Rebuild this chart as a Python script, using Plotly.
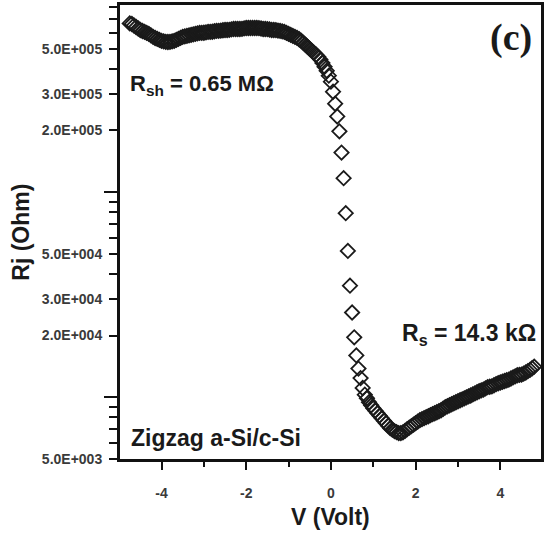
import math
import plotly.graph_objects as go

# ---------------- data ----------------
voltage = [
    -4.75, -4.70, -4.65, -4.60, -4.55, -4.50, -4.45, -4.40, -4.35, -4.30,
    -4.25, -4.20, -4.15, -4.10, -4.05, -4.00, -3.95, -3.90, -3.85, -3.80,
    -3.75, -3.70, -3.65, -3.60, -3.55, -3.50, -3.45, -3.40, -3.35, -3.30,
    -3.25, -3.20, -3.15, -3.10, -3.05, -3.00, -2.95, -2.90, -2.85, -2.80,
    -2.75, -2.70, -2.65, -2.60, -2.55, -2.50, -2.45, -2.40, -2.35, -2.30,
    -2.25, -2.20, -2.15, -2.10, -2.05, -2.00, -1.95, -1.90, -1.85, -1.80,
    -1.75, -1.70, -1.65, -1.60, -1.55, -1.50, -1.45, -1.40, -1.35, -1.30,
    -1.25, -1.20, -1.15, -1.10, -1.05, -1.00, -0.95, -0.90, -0.85, -0.80,
    -0.75, -0.70, -0.65, -0.60, -0.55, -0.50, -0.45, -0.40, -0.35, -0.30,
    -0.25, -0.20, -0.15, -0.10, -0.05, 0.00, 0.05, 0.10, 0.15, 0.20,
    0.25, 0.30, 0.35, 0.40, 0.45, 0.50, 0.55, 0.60, 0.65, 0.70,
    0.75, 0.80, 0.85, 0.90, 0.95, 1.00, 1.05, 1.10, 1.15, 1.20,
    1.25, 1.30, 1.35, 1.40, 1.45, 1.50, 1.55, 1.60, 1.65, 1.70,
    1.75, 1.80, 1.85, 1.90, 1.95, 2.00, 2.05, 2.10, 2.15, 2.20,
    2.25, 2.30, 2.35, 2.40, 2.45, 2.50, 2.55, 2.60, 2.65, 2.70,
    2.75, 2.80, 2.85, 2.90, 2.95, 3.00, 3.05, 3.10, 3.15, 3.20,
    3.25, 3.30, 3.35, 3.40, 3.45, 3.50, 3.55, 3.60, 3.65, 3.70,
    3.75, 3.80, 3.85, 3.90, 3.95, 4.00, 4.05, 4.10, 4.15, 4.20,
    4.25, 4.30, 4.35, 4.40, 4.45, 4.50, 4.55, 4.60, 4.65, 4.70,
    4.75, 4.80,
]
rj_ohm = [
    6.65e5, 6.61e5, 6.50e5, 6.39e5, 6.28e5, 6.18e5, 6.11e5, 6.05e5, 5.98e5, 5.92e5,
    5.82e5, 5.72e5, 5.65e5, 5.59e5, 5.53e5, 5.47e5, 5.44e5, 5.41e5, 5.40e5, 5.41e5,
    5.44e5, 5.47e5, 5.53e5, 5.59e5, 5.66e5, 5.72e5, 5.75e5, 5.78e5, 5.82e5, 5.85e5,
    5.88e5, 5.92e5, 5.95e5, 5.98e5, 5.98e5, 5.99e5, 6.02e5, 6.05e5, 6.05e5, 6.06e5,
    6.09e5, 6.12e5, 6.12e5, 6.13e5, 6.16e5, 6.18e5, 6.18e5, 6.19e5, 6.22e5, 6.25e5,
    6.25e5, 6.25e5, 6.25e5, 6.26e5, 6.29e5, 6.32e5, 6.32e5, 6.32e5, 6.32e5, 6.32e5,
    6.32e5, 6.31e5, 6.28e5, 6.25e5, 6.25e5, 6.24e5, 6.21e5, 6.18e5, 6.18e5, 6.17e5,
    6.14e5, 6.12e5, 6.08e5, 6.05e5, 5.98e5, 5.92e5, 5.85e5, 5.78e5, 5.72e5, 5.66e5,
    5.57e5, 5.47e5, 5.35e5, 5.23e5, 5.11e5, 5.00e5, 4.89e5, 4.78e5, 4.68e5, 4.57e5,
    4.43e5, 4.27e5, 4.09e5, 3.91e5, 3.70e5, 3.46e5, 3.09e5, 2.70e5, 2.34e5, 1.98e5,
    1.56e5, 1.17e5, 7.90e4, 5.17e4, 3.50e4, 2.59e4, 1.96e4, 1.60e4, 1.38e4, 1.24e4,
    1.11e4, 1.03e4, 9.89e3, 9.46e3, 9.14e3, 8.84e3, 8.60e3, 8.36e3, 8.13e3, 7.91e3,
    7.69e3, 7.48e3, 7.27e3, 7.07e3, 6.95e3, 6.84e3, 6.76e3, 6.69e3, 6.69e3, 6.74e3,
    6.86e3, 6.99e3, 7.11e3, 7.23e3, 7.35e3, 7.48e3, 7.61e3, 7.73e3, 7.82e3, 7.91e3,
    8.00e3, 8.08e3, 8.18e3, 8.27e3, 8.36e3, 8.45e3, 8.55e3, 8.64e3, 8.79e3, 8.94e3,
    9.04e3, 9.14e3, 9.25e3, 9.35e3, 9.46e3, 9.56e3, 9.67e3, 9.77e3, 9.88e3, 9.99e3,
    1.010e4, 1.020e4, 1.033e4, 1.045e4, 1.058e4, 1.070e4, 1.080e4, 1.090e4, 1.105e4, 1.120e4,
    1.125e4, 1.130e4, 1.145e4, 1.160e4, 1.170e4, 1.180e4, 1.190e4, 1.200e4, 1.210e4, 1.220e4,
    1.235e4, 1.250e4, 1.265e4, 1.280e4, 1.285e4, 1.290e4, 1.305e4, 1.320e4, 1.340e4, 1.360e4,
    1.385e4, 1.410e4,
]

x_tick_vals = [-4, -2, 0, 2, 4]
x_tick_text = ["-4", "-2", "0", "2", "4"]
x_minor_vals = [-3, -1, 1, 3]

y_tick_vals = [5e3, 2e4, 3e4, 5e4, 2e5, 3e5, 5e5]
y_tick_text = ["5.0E+003", "2.0E+004", "3.0E+004", "5.0E+004",
               "2.0E+005", "3.0E+005", "5.0E+005"]
y_decade_vals = [1e4, 1e5]
y_minor_vals = [6e3, 7e3, 8e3, 9e3, 4e4, 6e4, 7e4, 8e4, 9e4,
                4e5, 6e5, 7e5, 8e5]

y_min, y_max = 5e3, 8.18e5
x_min, x_max = -4.98, 4.96

# ---------------- figure ----------------
SANS = "Liberation Sans, Arial, sans-serif"
SERIF = "Liberation Serif, Times New Roman, serif"
TICK_COLOR = "#3a3a3a"

fig = go.Figure()
fig.add_trace(go.Scatter(
    x=voltage, y=rj_ohm, mode="markers",
    marker=dict(symbol="diamond-open", size=11, color="#1a1a1a",
                line=dict(width=1.8, color="#1a1a1a")),
    showlegend=False, hoverinfo="skip",
))
# empty helper trace so the decade-tick overlay axis is drawn
fig.add_trace(go.Scatter(x=[], y=[], yaxis="y2", showlegend=False))

yr = [math.log10(y_min), math.log10(y_max)]

fig.update_layout(
    width=546, height=533,
    margin=dict(l=120, r=2, t=3, b=74),
    paper_bgcolor="white", plot_bgcolor="white",
    xaxis=dict(
        range=[x_min, x_max], showgrid=False, zeroline=False,
        showline=True, linewidth=3, linecolor="#111", mirror=True,
        tickmode="array", tickvals=x_tick_vals, ticktext=x_tick_text,
        ticks="outside", ticklen=8, tickwidth=2, tickcolor="#111",
        ticklabelstandoff=11,
        tickfont=dict(family=SANS, size=14, color=TICK_COLOR, weight="bold"),
        minor=dict(tickmode="array", tickvals=x_minor_vals, ticks="outside",
                   ticklen=5, tickwidth=2, tickcolor="#111", showgrid=False),
    ),
    yaxis=dict(
        type="log", range=yr, showgrid=False, zeroline=False,
        showline=True, linewidth=3, linecolor="#111", mirror=True,
        tickmode="array", tickvals=y_tick_vals, ticktext=y_tick_text,
        ticks="outside", ticklen=8, tickwidth=2, tickcolor="#111",
        ticklabelstandoff=4,
        tickfont=dict(family=SANS, size=14, color=TICK_COLOR, weight="bold"),
        minor=dict(tickmode="array", tickvals=y_minor_vals, ticks="outside",
                   ticklen=8, tickwidth=2, tickcolor="#111", showgrid=False),
    ),
    yaxis2=dict(
        type="log", range=yr, overlaying="y", side="left", anchor="x",
        showgrid=False, zeroline=False, showline=False,
        tickmode="array", tickvals=y_decade_vals,
        ticks="outside", ticklen=15, tickwidth=2, tickcolor="#111",
        showticklabels=False,
    ),
)

annotations = [
    dict(text="<b>V (Volt)</b>", x=332, y=517, font=dict(size=23)),
    dict(text="<b>Rj (Ohm)</b>", x=20, y=231, font=dict(size=23), textangle=-90),
    dict(text="<b>(c)</b>", x=514, y=36, font=dict(family=SERIF, size=38)),
    dict(text="<b>R<sub>sh</sub> = 0.65 MΩ</b>", x=203, y=83, font=dict(size=22)),
    dict(text="<b>R<sub>s</sub> = 14.3 kΩ</b>", x=471, y=334, font=dict(size=23)),
    dict(text="<b>Zigzag a-Si/c-Si</b>", x=217, y=438, font=dict(size=23)),
]
plot_l, plot_r, plot_t, plot_b = 120, 544, 3, 459
for a in annotations:
    px, py = a.pop("x"), a.pop("y")
    font = dict(family=SANS, color="#1a1a1a")
    font.update(a.pop("font"))
    fig.add_annotation(
        xref="paper", yref="paper",
        x=(px - plot_l) / (plot_r - plot_l),
        y=(plot_b - py) / (plot_b - plot_t),
        xanchor="center", yanchor="middle", showarrow=False,
        font=font, **a,
    )

fig.write_html(
    "out.html",
    config={"displayModeBar": False},
    post_script="document.body.style.margin='0px';document.body.style.padding='0px';",
)
